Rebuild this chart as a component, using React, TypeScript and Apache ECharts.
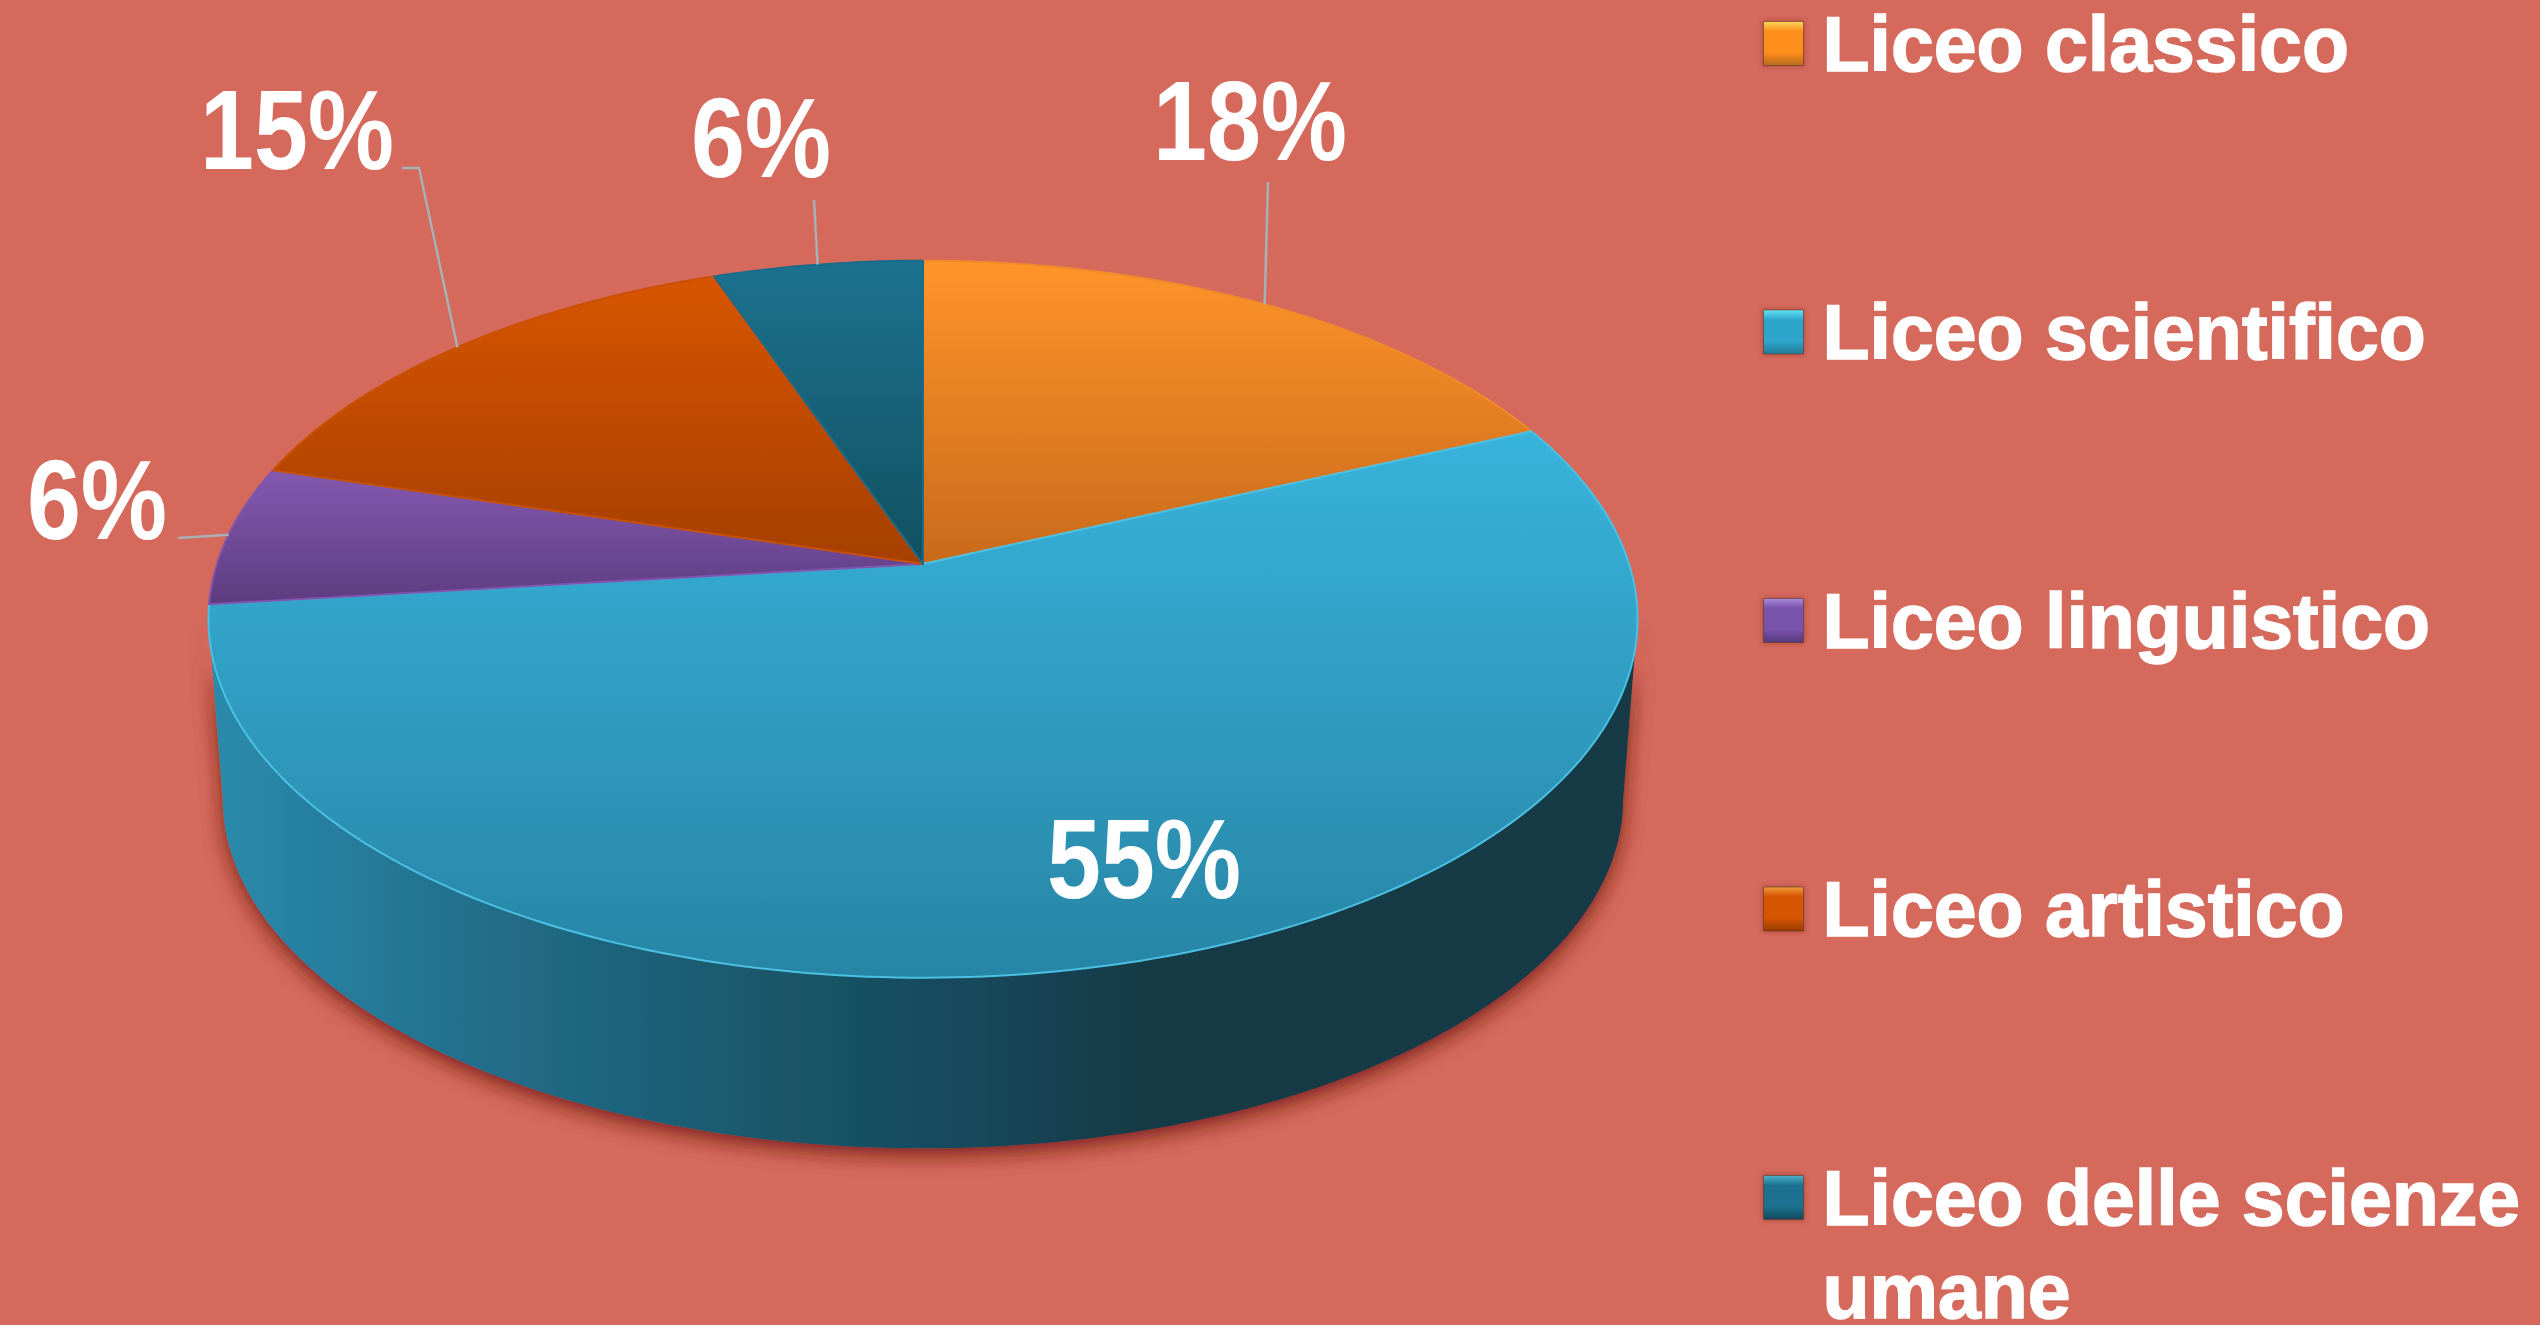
import React, { useEffect, useRef } from "react";
import * as echarts from "echarts";

const categories = ["Liceo classico", "Liceo scientifico", "Liceo linguistico", "Liceo artistico", "Liceo delle scienze umane"];
const shares = [18.4, 54.8, 6.3, 15.0, 5.5];
const percentLabels = ["18%", "55%", "6%", "15%", "6%"];

// Styling, per slice
const topColors = [
  ["#ff9429", "#c9691b"],
  ["#38b3dc", "#2785a5"],
  ["#8459b0", "#5e3c80"],
  ["#d75500", "#a53f00"],
  ["#1c7290", "#11505f"],
];
const strokeColors = ["#f08a2a", "#4cc0e2", "#7f55ae", "#c85000", "#1a6c88"];
const iconColors = [
  ["#ffd75a", "#ff8f1e", "#b56c1e"],
  ["#62e4f5", "#2ea6cc", "#267c98"],
  ["#a98bdc", "#7a52ac", "#54397c"],
  ["#f09a3a", "#d65400", "#983c00"],
  ["#4fb2cc", "#1c7290", "#124a5c"],
];
const labelCenters = [[1250, 121], [1144, 859], [97, 500], [297, 130], [761, 138]];
const leaderOuter: (number[][] | null)[] = [
  [[1268, 182]],
  null,
  [[178, 538]],
  [[402, 168], [419, 168]],
  [[814, 200]],
];

// Projection of the disc
const CX = 923, CY = 564, RX = 706, RY = 350, K = 0.154;
const WALL_SX = 0.98, WALL_SY = 0.975, WALL_CY = 745;
const total = shares.reduce((a, b) => a + b, 0);
const TANGENT = 90 + (Math.asin(K) * 180) / Math.PI;

const rim = (deg: number) => {
  const t = (deg * Math.PI) / 180;
  const u = Math.sin(t), v = -Math.cos(t);
  const w = 1 / (1 - K * v);
  return [CX + RX * u * w, CY + RY * v * w];
};
const lower = (p: number[]) => [CX + WALL_SX * (p[0] - CX), WALL_CY + WALL_SY * (p[1] - CY)];
const arc = (a: number, b: number) => {
  const n = Math.max(2, Math.ceil((b - a) / 1));
  const out: number[][] = [];
  for (let i = 0; i <= n; i++) out.push(rim(a + ((b - a) * i) / n));
  return out;
};

const sliceItem = (index: number) => (_params: any, api: any) => {
  const value = api.value(0);
  const before = shares.slice(0, index).reduce((a, b) => a + b, 0);
  const a0 = (before / total) * 360;
  const a1 = a0 + (value / total) * 360;
  const w0 = Math.max(a0, TANGENT);
  const w1 = Math.min(a1, 360 - TANGENT);
  const children: any[] = [];
  if (w1 > w0) {
    const wall = arc(w0, w1);
    children.push({
      type: "polygon",
      shape: { points: [...wall, ...wall.map(lower).reverse()] },
      style: {
        fill: new echarts.graphic.LinearGradient(0, 0, 1, 0, [
          { offset: 0, color: "#2b8bad" },
          { offset: 0.2, color: "#216d89" },
          { offset: 0.41, color: "#1a5568" },
          { offset: 0.54, color: "#16485a" },
          { offset: 0.65, color: "#143a47" },
          { offset: 1, color: "#143a47" },
        ]),
        shadowColor: "rgba(110,25,15,0.85)",
        shadowBlur: 20,
        shadowOffsetY: 7,
      },
    });
  }
  children.push({
    type: "polygon",
    shape: { points: [[CX, CY], ...arc(a0, a1)] },
    style: {
      fill: new echarts.graphic.LinearGradient(0, 0, 0, 1, [
        { offset: 0, color: topColors[index][0] },
        { offset: 1, color: topColors[index][1] },
      ]),
      stroke: strokeColors[index],
      lineWidth: 2,
      lineJoin: "round",
    },
  });
  const outer = leaderOuter[index];
  if (outer) {
    children.push({
      type: "polyline",
      shape: { points: [...outer, rim((a0 + a1) / 2)] },
      style: { stroke: "#a7b0b3", lineWidth: 2.5, fill: "none" },
    });
  }
  const [lx, ly] = labelCenters[index];
  children.push({
    type: "text",
    x: lx,
    y: ly,
    scaleX: 1,
    scaleY: 1.16,
    style: {
      text: percentLabels[index],
      fill: "#ffffff",
      align: "center",
      verticalAlign: "middle",
      fontFamily: "Liberation Sans",
      fontWeight: "bold",
      fontSize: 97,
    },
  });
  return { type: "group", children };
};

const iconStyle = (i: number) => ({
  color: new echarts.graphic.LinearGradient(0, 0, 0, 1, [
    { offset: 0, color: iconColors[i][0] },
    { offset: 0.22, color: iconColors[i][1] },
    { offset: 0.7, color: iconColors[i][1] },
    { offset: 1, color: iconColors[i][2] },
  ]),
  borderColor: "rgba(90,50,40,0.55)",
  borderWidth: 1,
  shadowColor: "rgba(120,30,20,0.5)",
  shadowBlur: 5,
});

const legendBase = {
  orient: "vertical" as const,
  left: 1763,
  padding: 0,
  icon: "rect",
  itemWidth: 40,
  itemHeight: 44,
  itemGap: 195.5,
  selectedMode: false,
  textStyle: {
    color: "#ffffff",
    textBorderColor: "#ffffff",
    textBorderWidth: 1.5,
    fontFamily: "Liberation Sans",
    fontWeight: "bold" as const,
    fontSize: 77,
    lineHeight: 93,
    padding: [0, 0, 0, 14],
  },
};

export default function App() {
  const ref = useRef<HTMLDivElement>(null);
  useEffect(() => {
    document.body.style.margin = "0";
    document.body.style.overflow = "hidden";
    const chart = echarts.init(ref.current!, undefined, { renderer: "svg" });
    chart.setOption({
      animation: false,
      backgroundColor: "#d4695c",
      legend: [
        {
          ...legendBase,
          top: -3,
          height: 1300,
          data: categories.slice(0, 4).map((name, i) => ({ name, itemStyle: iconStyle(i) })),
        },
        {
          ...legendBase,
          top: 1058,
          data: [{ name: categories[4], itemStyle: iconStyle(4) }],
          formatter: () => "\nLiceo delle scienze\numane",
        },
      ],
      series: categories.map((name, i) => ({
        type: "custom",
        name,
        coordinateSystem: "none",
        silent: true,
        clip: false,
        data: [[shares[i]]],
        renderItem: sliceItem(i),
        itemStyle: { color: topColors[i][0] },
      })),
    });
    return () => chart.dispose();
  }, []);
  return <div ref={ref} style={{ width: 2540, height: 1325 }} />;
}
